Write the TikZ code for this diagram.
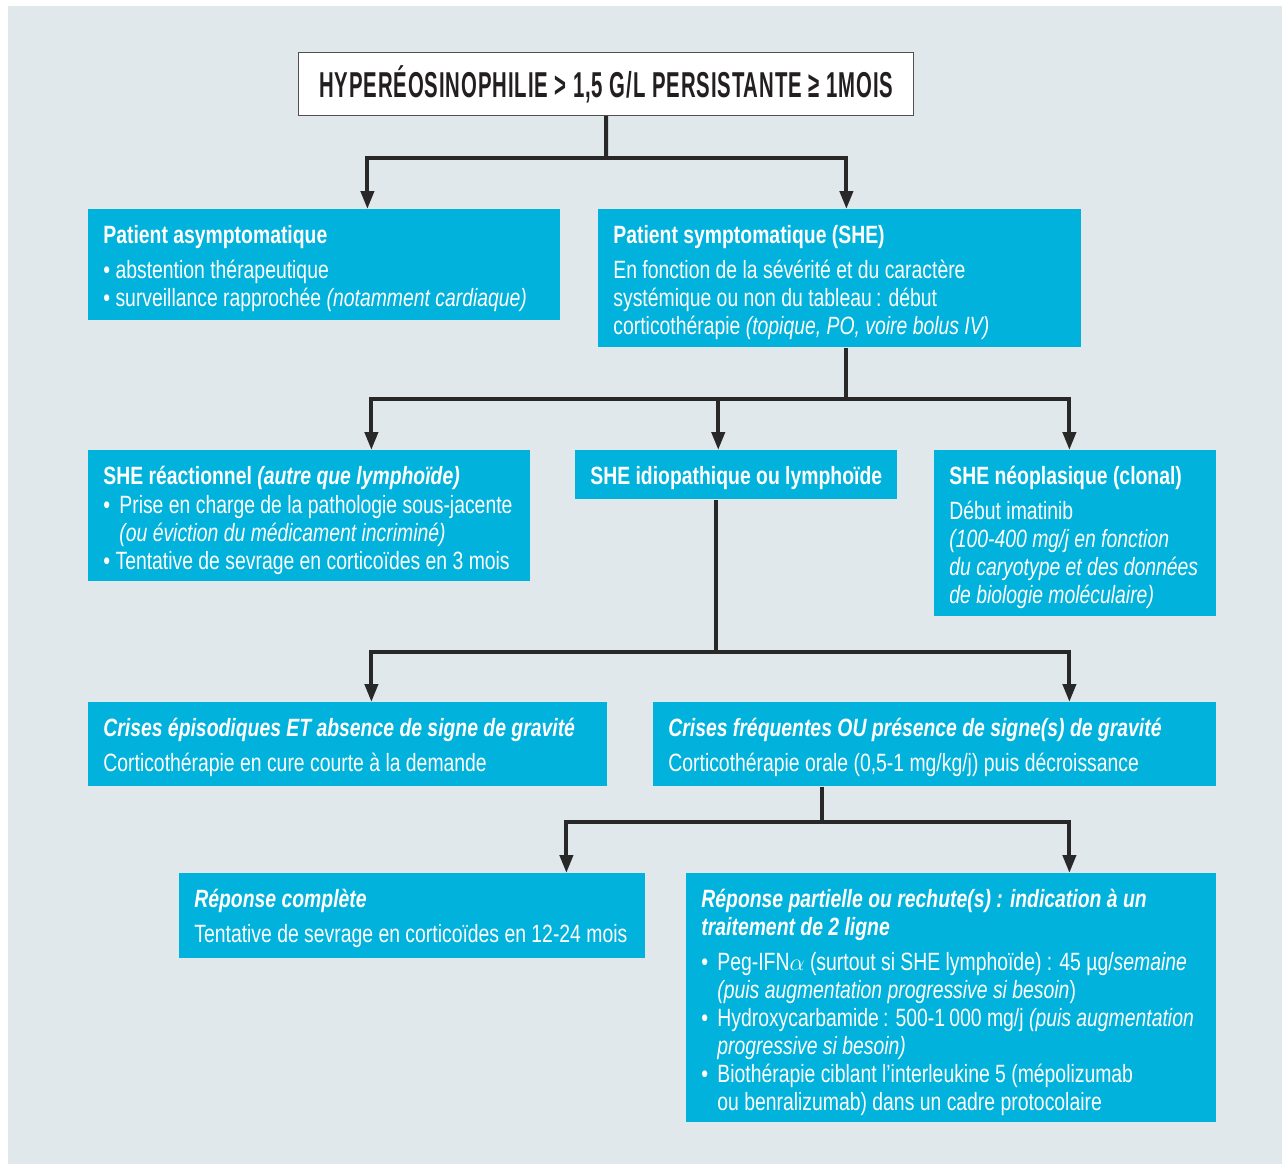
\documentclass[tikz,border=0pt]{standalone}
\usepackage{fontspec}
\setmainfont{Liberation Sans}[FakeStretch=0.775]
\newfontfamily\titrefont{Liberation Sans}[FakeStretch=0.565, LetterSpace=2.5]
\usetikzlibrary{arrows.meta}

\definecolor{sheblue}{RGB}{0,178,220}
\definecolor{fond}{RGB}{225,232,236}
\definecolor{trait}{RGB}{40,40,40}
\definecolor{cadre}{RGB}{80,80,80}
\definecolor{encre}{RGB}{35,31,32}

\newcommand{\puce}{\makebox[8pt][l]{\textbullet}}
\newcommand{\suite}{\hspace*{8pt}}
\hyphenpenalty=10000
\exhyphenpenalty=10000

\begin{document}
\begin{tikzpicture}[
    x=0.5pt, y=-0.5pt,
    font=\fontsize{12.5}{14}\selectfont,
    box/.style={fill=sheblue, text=white, anchor=north west, align=flush left,
      inner xsep=7.5pt, inner ysep=0pt, text height=17pt},
    titre/.style={fill=white, draw=cadre, line width=0.6pt, anchor=north west,
      minimum width=307.5pt, minimum height=31.5pt, text=encre,
      font=\titrefont\bfseries\fontsize{18}{20}\selectfont},
    lien/.style={line width=2pt, draw=trait},
    fleche/.style={lien, -{Triangle[length=9pt, width=6.5pt]}}
  ]

  % Background
  \useasboundingbox (0,0) rectangle (1282,1164);
  \fill[fond] (8,6) rectangle (1282,1164);

  % Top
  \node[titre] (hyper) at (298,52) {HYPERÉOSINOPHILIE > 1,5 G/L PERSISTANTE ≥ 1MOIS};

  % Level 1
  \node[box, text width=221pt, text depth=38.5pt] (asympto) at (88,209)
    {\textbf{Patient asymptomatique}\\[3.5pt]
     \textbullet\ abstention thérapeutique\\
     \textbullet\ surveillance rapprochée \textit{(notamment cardiaque)}};
  \node[box, text width=226.5pt, text depth=52pt] (sympto) at (598,209)
    {\textbf{Patient symptomatique (SHE)}\\[3.5pt]
     En fonction de la sévérité et du caractère\\
     systémique ou non du tableau\,: début\\
     corticothérapie \textit{(topique, PO, voire bolus IV)}};

  % Level 2
  \node[box, text width=206pt, text depth=48.5pt] (reac) at (88,450)
    {\textbf{SHE réactionnel \textit{(autre que lymphoïde)}}\\[0.5pt]
     \mbox{\puce Prise en charge de la pathologie sous-jacente}\\
     \suite\textit{(ou éviction du médicament incriminé)}\\
     \mbox{\textbullet\ Tentative de sevrage en corticoïdes en 3 mois}};
  \node[box, minimum width=159pt, text depth=7.5pt] (idio) at (575,450)
    {\textbf{SHE idiopathique ou lymphoïde}};
  \node[box, text width=126pt, text depth=66pt] (neo) at (934,450)
    {\textbf{SHE néoplasique (clonal)}\\[3.5pt]
     Début imatinib\\
     \textit{(100-400 mg/j en fonction}\\
     \mbox{\textit{du caryotype et des données}}\\
     \textit{de biologie moléculaire)}};

  % Level 3
  \node[box, text width=244.5pt, text depth=25pt] (episod) at (88,702)
    {\textbf{\textit{Crises épisodiques ET absence de signe de gravité}}\\[3.5pt]
     Corticothérapie en cure courte à la demande};
  \node[box, text width=266.5pt, text depth=25pt] (freq) at (653,702)
    {\textbf{\textit{Crises fréquentes OU présence de signe(s) de gravité}}\\[3.5pt]
     Corticothérapie orale (0,5-1 mg/kg/j) puis décroissance};

  % Level 4
  \node[box, text width=218pt, text depth=25.5pt] (complete) at (179,873)
    {\textbf{\textit{Réponse complète}}\\[3.5pt]
     Tentative de sevrage en corticoïdes en 12-24 mois};
  \node[box, text width=250pt, text depth=107.5pt] (partielle) at (686,873)
    {\textbf{\textit{Réponse partielle ou rechute(s) : indication à un}}\\
     \textbf{\textit{traitement de 2 ligne}}\\[3.5pt]
     \mbox{\puce Peg-IFN$\alpha$ (surtout si SHE lymphoïde) : 45 µg/\textit{semaine}}\\
     \suite\textit{(puis augmentation progressive si besoin})\\
     \mbox{\puce Hydroxycarbamide\,: 500-1\,000 mg/j \textit{(puis augmentation}}\\
     \suite\textit{progressive si besoin)}\\
     \puce Biothérapie ciblant l’interleukine 5 (mépolizumab\\
     \suite ou benralizumab) dans un cadre protocolaire};

  % Connectors
  \coordinate (j1) at (606,158);
  \coordinate (j2) at (846,399);
  \coordinate (j3) at (716,652);
  \coordinate (j4) at (822,822);

  \draw[lien] (hyper.south) -- (j1);
  \draw[fleche] (j1) -| ([xshift=21.5pt]asympto.north);
  \draw[fleche] (j1) -| ([xshift=3.25pt]sympto.north);

  \draw[lien] (sympto.south -| j2) -- (j2);
  \draw[fleche] (j2) -| ([xshift=31pt]reac.north);
  \draw[fleche] (j2) -| ([xshift=-9pt]idio.north);
  \draw[fleche] (j2) -| ([xshift=-3pt]neo.north);

  \draw[lien] (idio.south -| j3) -- (j3);
  \draw[fleche] (j3) -| ([xshift=11.75pt]episod.north);
  \draw[fleche] (j3) -| ([xshift=67.25pt]freq.north);

  \draw[lien] (freq.south -| j4) -- (j4);
  \draw[fleche] (j4) -| ([xshift=77pt]complete.north);
  \draw[fleche] (j4) -| ([xshift=59pt]partielle.north);

\end{tikzpicture}
\end{document}
